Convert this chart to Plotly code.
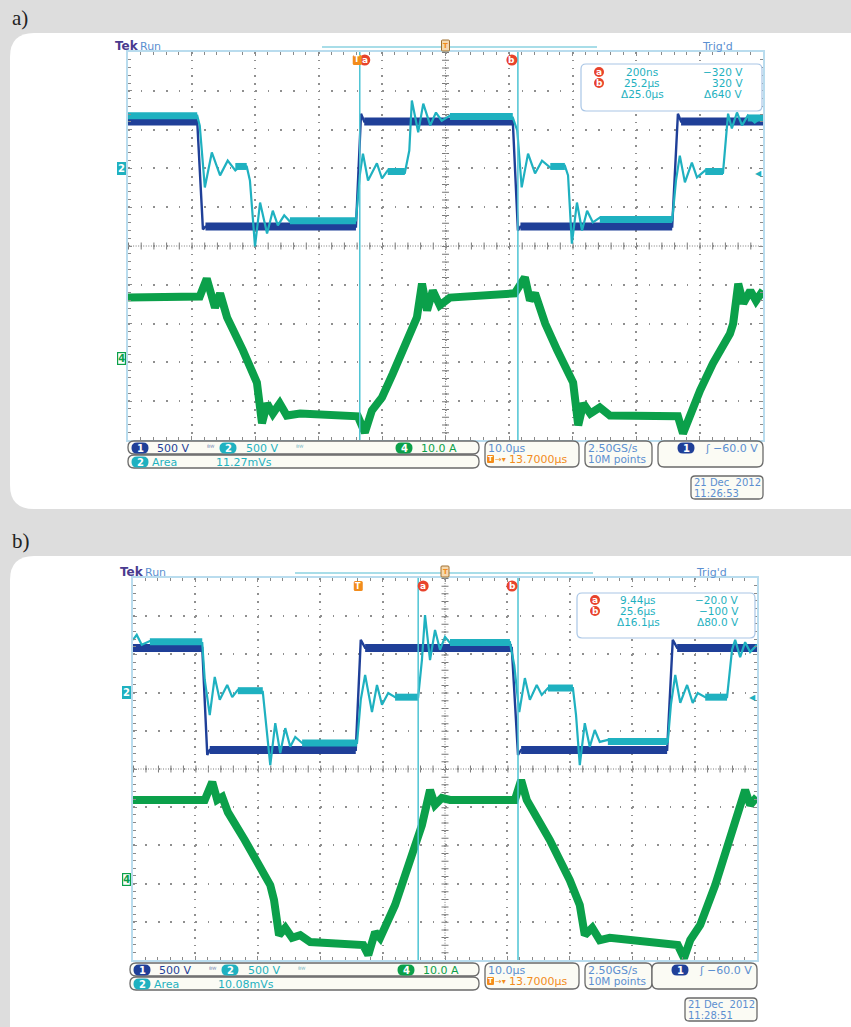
import plotly.graph_objects as go

W, H = 851, 1027

# ======================= DATA =======================
# x: time across the 10-division screen in µs (10.0 µs/div)
# y: vertical position in graticule divisions (centre line = 0)

# ---------- a) ----------
a_ch1_t = [0, 10.9, 11.8, 12.2, 35.9, 36.7, 37.2, 60.6, 61.4, 61.8, 85.7, 86.6, 87.1, 100]
a_ch1_v = [3.21, 3.21, 0.43, 0.50, 0.50, 3.41, 3.21, 3.21, 0.40, 0.50, 0.50, 3.41, 3.21, 3.21]
a_ch1_band_t = [0, 10.9, None, 12.2, 35.9, None, 37.2, 60.6, None, 61.8, 85.7, None, 87.1, 100]
a_ch1_band_v = [3.21, 3.21, None, 0.50, 0.50, None, 3.21, 3.21, None, 0.50, 0.50, None, 3.21, 3.21]

a_ch2_t = [0, 10.9, 11.3, 12.1, 13.2, 14.5, 15.7, 16.9, 18.0, 18.7, 19.2, 20.0, 20.8, 21.9, 22.8, 23.6,
           24.6, 25.5, 35.9, 36.5, 37.0, 37.8, 39.2, 40.0, 40.9, 43.6, 44.3, 44.7, 45.7, 46.5, 47.6, 48.5,
           49.4, 50.7, 60.6, 61.3, 62.0, 63.0, 64.1, 65.2, 66.5, 68.8, 69.3, 69.9, 70.7, 71.5, 72.3, 73.2,
           74.3, 85.7, 86.3, 86.9, 87.7, 88.8, 89.6, 90.9, 93.7, 94.2, 94.5, 95.1, 95.9, 96.7, 97.6, 98.7, 100]
a_ch2_v = [3.36, 3.36, 3.10, 1.51, 2.41, 1.82, 2.20, 1.95, 2.10, 2.05, 1.69, -0.01, 1.12, 0.32, 0.91, 0.53,
           0.79, 0.63, 0.66, 1.82, 2.38, 1.69, 2.13, 1.74, 1.95, 1.89, 2.46, 3.75, 2.93, 3.67, 3.11, 3.44,
           3.23, 3.36, 3.31, 2.98, 1.51, 2.38, 1.87, 2.20, 2.02, 2.07, 1.82, 0.06, 1.12, 0.40, 0.91, 0.61,
           0.73, 0.66, 1.69, 2.33, 1.64, 2.15, 1.77, 1.95, 1.89, 2.72, 3.41, 3.03, 3.44, 3.11, 3.36, 3.18, 3.34]
a_ch2_band_t = [0, 10.9, None, 16.9, 18.7, None, 25.5, 35.9, None, 40.9, 43.6, None, 50.7, 60.6, None,
                66.5, 68.8, None, 74.3, 85.7, None, 90.9, 93.7, None, 97.6, 100]
a_ch2_band_v = [3.36, 3.36, None, 2.05, 2.05, None, 0.65, 0.65, None, 1.92, 1.92, None, 3.34, 3.34, None,
                2.05, 2.05, None, 0.68, 0.68, None, 1.92, 1.92, None, 3.30, 3.30]

a_ch4_t = [0, 11.3, 12.4, 13.1, 13.7, 14.5, 15.6, 18.1, 19.7, 20.3, 21.1, 21.9, 22.8, 23.9, 25.0, 27.1,
           36.2, 37.3, 38.4, 40.0, 41.7, 44.4, 45.5, 46.3, 47.1, 48.0, 49.1, 50.7, 60.9, 62.5, 63.3, 64.1,
           64.9, 65.7, 67.6, 69.6, 70.1, 70.9, 71.7, 72.8, 74.3, 75.9, 86.6, 87.4, 88.5, 90.1, 92.1, 94.8,
           95.3, 96.1, 96.9, 98.0, 98.9, 100]
a_ch4_v = [-1.33, -1.30, -0.84, -1.28, -1.59, -1.22, -1.84, -2.69, -3.29, -3.52, -4.57, -4.06, -4.32, -4.06,
           -4.37, -4.32, -4.39, -4.81, -4.24, -3.90, -3.29, -2.26, -1.84, -0.97, -1.66, -1.15, -1.53, -1.33,
           -1.22, -0.81, -1.40, -1.22, -1.59, -2.00, -2.69, -3.29, -3.52, -4.62, -4.06, -4.32, -4.16, -4.37,
           -4.39, -4.83, -4.32, -3.72, -3.03, -2.26, -2.00, -0.97, -1.48, -1.15, -1.41, -1.15]

a_cursors = [36.5, 61.4]          # cursor a / b positions on screen (µs)
a_trigger = 36.1                  # trigger point marker (µs on screen)
a_cursor_times = ["200ns", "25.2µs", "Δ25.0µs"]
a_cursor_volts = ["\u2212320 V", "320 V", "Δ640 V"]
a_area = "11.27mVs"
a_clock = "11:26:53"

# ---------- b) ----------
b_ch1_t = [0, 11.1, 11.9, 12.3, 35.7, 36.5, 37.2, 60.7, 61.7, 62.2, 85.6, 86.5, 87.2, 100]
b_ch1_v = [3.17, 3.17, 0.37, 0.50, 0.50, 3.38, 3.17, 3.17, 0.37, 0.50, 0.50, 3.38, 3.17, 3.17]
b_ch1_band_t = [0, 11.1, None, 12.3, 35.7, None, 37.2, 60.7, None, 62.2, 85.6, None, 87.2, 100]
b_ch1_band_v = [3.17, 3.17, None, 0.50, 0.50, None, 3.17, 3.17, None, 0.50, 0.50, None, 3.17, 3.17]

b_ch2_t = [0, 0.6, 1.4, 2.7, 11.1, 11.5, 12.3, 13.1, 13.9, 15.1, 15.9, 16.8, 20.8, 21.3, 22.0, 22.8,
           23.6, 24.4, 25.2, 26.0, 27.1, 35.9, 36.5, 37.2, 38.3, 39.1, 39.9, 40.9, 42.0, 45.7, 46.3, 46.8,
           47.6, 48.4, 49.2, 50.0, 50.8, 60.4, 61.1, 61.9, 62.8, 63.6, 64.7, 65.5, 66.5, 70.5, 71.0, 71.6,
           72.4, 73.2, 74.0, 74.8, 76.1, 85.7, 86.2, 86.9, 87.7, 88.8, 89.7, 90.5, 91.7, 95.2, 96.0, 96.5,
           97.3, 98.1, 98.9, 100]
b_ch2_v = [3.38, 3.51, 3.25, 3.35, 3.30, 2.33, 1.41, 2.41, 1.81, 2.20, 1.88, 2.07, 2.02, 1.28, 0.10, 1.20,
           0.42, 1.07, 0.58, 0.84, 0.68, 0.68, 1.81, 2.46, 1.49, 2.20, 1.68, 1.99, 1.88, 1.88, 2.85, 4.03,
           2.85, 3.64, 3.12, 3.46, 3.30, 3.32, 2.72, 1.49, 2.38, 1.81, 2.20, 1.94, 2.12, 2.12, 1.41, 0.10,
           1.20, 0.58, 1.02, 0.71, 0.76, 0.71, 1.68, 2.46, 1.73, 2.20, 1.73, 1.99, 1.88, 1.88, 3.12, 3.38,
           2.93, 3.32, 3.06, 3.25]
b_ch2_band_t = [2.7, 11.1, None, 16.8, 20.8, None, 27.1, 35.9, None, 42.0, 45.7, None, 50.8, 60.4, None,
                66.5, 70.5, None, 76.1, 85.7, None, 91.7, 95.2]
b_ch2_band_v = [3.33, 3.33, None, 2.05, 2.05, None, 0.68, 0.68, None, 1.88, 1.88, None, 3.31, 3.31, None,
                2.12, 2.12, None, 0.72, 0.72, None, 1.88, 1.88]

b_ch4_t = [0, 11.5, 12.7, 13.5, 14.3, 15.2, 17.9, 20.7, 22.0, 22.6, 23.4, 24.4, 25.5, 26.8, 28.4, 36.9,
           37.7, 38.8, 39.6, 42.0, 44.4, 46.3, 47.6, 48.4, 49.5, 50.8, 61.2, 62.2, 63.1, 64.1, 66.8, 70.0,
           71.6, 72.4, 73.6, 74.8, 76.4, 87.3, 88.3, 89.3, 90.9, 93.3, 95.7, 97.3, 98.1, 98.9, 100]
b_ch4_v = [-0.81, -0.81, -0.34, -0.81, -0.73, -1.13, -1.86, -2.64, -3.04, -3.43, -4.35, -4.16, -4.42, -4.35,
           -4.53, -4.61, -4.87, -4.27, -4.42, -3.56, -2.38, -1.47, -0.55, -0.94, -0.76, -0.81, -0.81, -0.29,
           -0.81, -1.07, -1.86, -2.91, -3.56, -4.35, -4.16, -4.48, -4.42, -4.61, -4.95, -4.48, -4.08, -3.04,
           -1.86, -1.07, -0.55, -0.94, -0.73]

b_cursors = [45.7, 61.7]
b_trigger = 36.1
b_cursor_times = ["9.44µs", "25.6µs", "Δ16.1µs"]
b_cursor_volts = ["\u221220.0 V", "\u2212100 V", "Δ80.0 V"]
b_area = "10.08mVs"
b_clock = "11:28:51"

# ---------- common readouts ----------
channel_scales = ["500 V", "500 V", "10.0 A"]
timebase = "10.0µs"
trigger_delay = "13.7000µs"
sample_rate = "2.50GS/s"
record_length = "10M points"
trigger_level = "\u221260.0 V"
date_text = "21 Dec  2012"
ch2_ground_div = 2.0
ch4_ground_div = -2.9
ref_arrow_div = 1.87

# ======================= STYLE =======================
PAGE = "#dddddd"
BLUE = "#1f3f98"
CYAN = "#1fb1c0"
GREEN = "#0ba04a"
CURSOR = "#4ec4d4"
RED = "#e8432c"
ORANGE = "#f28c1c"
STEEL = "#5b8fd0"
TEK = "#4a3b8f"
GRID = "#8f8f8f"
BORDER = "#b9dcee"
BOXEDGE = "#6a6a6a"
BOXFILL = "#fbfbf4"
FONT = "DejaVu Sans"
SERIF = "Liberation Serif"
STS = 11  # status-bar font size

PANELS = [
    dict(label="a)", label_y=18, card=(10, 33, 900, 509),
         gx0=128, gx1=763, gy0=52, gy1=440, sy=441, lx=128,
         topline=(322, 597), mbox=(581, 64, 762, 111), mrows=(72, 83, 94),
         ch1=(a_ch1_t, a_ch1_v, a_ch1_band_t, a_ch1_band_v),
         ch2=(a_ch2_t, a_ch2_v, a_ch2_band_t, a_ch2_band_v),
         ch4=(a_ch4_t, a_ch4_v), cursors=a_cursors, trigger=a_trigger,
         ctimes=a_cursor_times, cvolts=a_cursor_volts, area=a_area, clock=a_clock),
    dict(label="b)", label_y=541, card=(10, 556, 900, 1060),
         gx0=133, gx1=757, gy0=578, gy1=960, sy=963, lx=130,
         topline=(295, 593), mbox=(577, 593, 755, 638), mrows=(600, 611, 622),
         ch1=(b_ch1_t, b_ch1_v, b_ch1_band_t, b_ch1_band_v),
         ch2=(b_ch2_t, b_ch2_v, b_ch2_band_t, b_ch2_band_v),
         ch4=(b_ch4_t, b_ch4_v), cursors=b_cursors, trigger=b_trigger,
         ctimes=b_cursor_times, cvolts=b_cursor_volts, area=b_area, clock=b_clock),
]


def PX(x):
    return x / W


def PY(y):
    return 1 - y / H


def rrect(x0, y0, x1, y1, r):
    rx, ry = r / W, r / H
    X0, X1 = PX(x0), PX(x1)
    YT, YB = PY(y0), PY(y1)
    return (f"M{X0+rx},{YT} L{X1-rx},{YT} Q{X1},{YT} {X1},{YT-ry} L{X1},{YB+ry} "
            f"Q{X1},{YB} {X1-rx},{YB} L{X0+rx},{YB} Q{X0},{YB} {X0},{YB+ry} "
            f"L{X0},{YT-ry} Q{X0},{YT} {X0+rx},{YT} Z")


shapes, annos = [], []


def box(x0, y0, x1, y1, r, fill, edge=None, ew=1.0, layer="above"):
    shapes.append(dict(type="path", path=rrect(x0, y0, x1, y1, r), xref="paper", yref="paper",
                       fillcolor=fill, line=dict(color=edge or fill, width=ew if edge else 0),
                       layer=layer))


def text(x, y, s, color, size=10, anchor="left", family=FONT, bold=False, **kw):
    d = dict(x=PX(x), y=PY(y), xref="paper", yref="paper", text=(f"<b>{s}</b>" if bold else s),
             showarrow=False, xanchor=anchor, yanchor="middle",
             font=dict(color=color, size=size, family=family), borderpad=0, borderwidth=0)
    d.update(kw)
    annos.append(d)


def badge(cx, cy, s, fill, r=5.5):
    shapes.append(dict(type="circle", xref="paper", yref="paper", x0=PX(cx - r), x1=PX(cx + r),
                       y0=PY(cy + r), y1=PY(cy - r), fillcolor=fill, line=dict(width=0), layer="above"))
    text(cx, cy, s, "white", size=9, anchor="center", bold=True)


def pill(cx, cy, s, fill):
    box(cx - 8.5, cy - 5.5, cx + 8.5, cy + 5.5, 5.5, fill)
    text(cx, cy, s, "white", size=10, anchor="center", bold=True)


fig = go.Figure()
layout_axes = {}

for i, p in enumerate(PANELS):
    xa = "x" if i == 0 else "x2"
    ya = "y" if i == 0 else "y2"
    gx0, gx1, gy0, gy1 = p["gx0"], p["gx1"], p["gy0"], p["gy1"]
    dxp = (gx1 - gx0) / 10.0   # px per horizontal division
    dyp = (gy1 - gy0) / 10.0   # px per vertical division

    def tx(t):
        return gx0 + t / 100.0 * (gx1 - gx0)

    def vy(v):
        return (gy0 + gy1) / 2.0 - v * dyp

    # card
    c = p["card"]
    box(c[0], c[1], c[2], c[3], 24, "white", layer="below")
    text(12, p["label_y"], p["label"], "#222222", size=21, family=SERIF)

    # axes
    common = dict(showgrid=True, gridcolor=GRID, gridwidth=1.6, zeroline=False,
                  showline=True, linecolor=BORDER, linewidth=2, mirror="ticks",
                  ticks="inside", ticklen=4, tickcolor="#8a8a8a", tickwidth=1,
                  showticklabels=False, fixedrange=True)
    layout_axes["xaxis" if i == 0 else "xaxis2"] = dict(
        common, domain=[PX(gx0), PX(gx1)], range=[0, 100], dtick=10, tick0=0,
        anchor=ya, griddash=f"1.6px,{dyp/5-1.6:.2f}px",
        minor=dict(dtick=2, ticks="inside", ticklen=3, tickcolor="#8a8a8a", showgrid=False))
    layout_axes["yaxis" if i == 0 else "yaxis2"] = dict(
        common, domain=[PY(gy1), PY(gy0)], range=[-5, 5], dtick=1, tick0=-5,
        anchor=xa, griddash=f"1.6px,{dxp/5-1.6:.2f}px",
        minor=dict(dtick=0.2, ticks="inside", ticklen=3, tickcolor="#8a8a8a", showgrid=False))

    # centre crosshair (fine dotted line + tick marks every 1/5 division)
    shapes.append(dict(type="line", xref=xa, yref=ya, x0=0, x1=100, y0=0, y1=0, layer="below",
                       line=dict(color="#7a7a7a", width=1, dash=f"1px,{dxp/25-1:.2f}px")))
    shapes.append(dict(type="line", xref=xa, yref=ya, x0=0, x1=100, y0=0, y1=0, layer="below",
                       line=dict(color="#7a7a7a", width=7, dash=f"1px,{dxp/5-1:.2f}px")))
    shapes.append(dict(type="line", xref=xa, yref=ya, x0=50, x1=50, y0=5, y1=-5, layer="below",
                       line=dict(color="#7a7a7a", width=1, dash=f"1px,{dyp/15-1:.2f}px")))
    shapes.append(dict(type="line", xref=xa, yref=ya, x0=50, x1=50, y0=5, y1=-5, layer="below",
                       line=dict(color="#7a7a7a", width=7, dash=f"1px,{dyp/5-1:.2f}px")))

    # waveforms
    t1, v1, bt1, bv1 = p["ch1"]
    t2, v2, bt2, bv2 = p["ch2"]
    t4, v4 = p["ch4"]
    for (xs, ys, col, wd) in [(t1, v1, BLUE, 2.4), (bt1, bv1, BLUE, 8),
                              (bt2, bv2, CYAN, 7), (t2, v2, CYAN, 2.2),
                              (t4, v4, GREEN, 8)]:
        fig.add_trace(go.Scatter(x=xs, y=ys, mode="lines", line=dict(color=col, width=wd),
                                 xaxis=xa, yaxis=ya, hoverinfo="skip", showlegend=False,
                                 connectgaps=False))

    # cursors
    for cx in p["cursors"]:
        shapes.append(dict(type="line", xref=xa, yref=ya, x0=cx, x1=cx, y0=-5, y1=5,
                           line=dict(color=CURSOR, width=1.5), layer="above"))
    my = gy0 + 8
    badge(tx(p["cursors"][0]) + 5, my, "a", RED)
    badge(tx(p["cursors"][1]) - 6, my, "b", RED)
    trx = tx(p["trigger"])
    box(trx - 4.5, my - 5, trx + 4.5, my + 5, 1.5, ORANGE)
    text(trx, my, "T", "white", size=8, anchor="center", bold=True)

    # header
    hy = gy0 - 6
    text(gx0 - 13, hy, "Tek", TEK, size=12, bold=True)
    text(gx0 + 12, hy, "Run", STEEL, size=11)
    text(gx1 - 61, hy, "Trig'd", STEEL, size=11)
    shapes.append(dict(type="line", xref="paper", yref="paper", x0=PX(p["topline"][0]),
                       x1=PX(p["topline"][1]), y0=PY(hy + 1), y1=PY(hy + 1),
                       line=dict(color="#a8dde8", width=2), layer="above"))
    ix = tx(50)
    box(ix - 4, hy - 6, ix + 4, hy + 5, 1, "#f5d9b0", edge="#a07030", ew=1)
    text(ix, hy, "T", ORANGE, size=7, anchor="center", bold=True)

    # channel ground markers and reference arrow
    text(gx0 - 2, vy(ch2_ground_div), "2", "white", size=10, anchor="right", bold=True,
         bgcolor=CYAN, borderpad=1)
    text(gx0 - 2, vy(ch4_ground_div), "4", GREEN, size=10, anchor="right", bold=True,
         bgcolor="white", bordercolor=GREEN, borderwidth=1.2, borderpad=0)
    text(gx1 - 1, vy(ref_arrow_div), "◀", CYAN, size=8, anchor="right")

    # cursor readout box
    mx0, my0, mx1, my1 = p["mbox"]
    box(mx0, my0, mx1, my1, 5, "white", edge="#a9c6e6", ew=1.2)
    rows = p["mrows"]
    for k in range(3):
        if k < 2:
            badge(mx0 + 18, rows[k], "ab"[k], RED, r=5)
        text(mx0 + 61, rows[k], p["ctimes"][k], CYAN, size=10.5, anchor="center")
        text(mx0 + 162, rows[k], p["cvolts"][k], CYAN, size=10.5, anchor="right")

    # status bar
    sy, lx = p["sy"], p["lx"]
    r1, r2 = sy + 7, sy + 21
    box(lx, sy, 479, sy + 13, 6, BOXFILL, edge=BOXEDGE, ew=1.3)
    box(lx, sy + 14, 479, sy + 27, 6, BOXFILL, edge=BOXEDGE, ew=1.3)
    box(485, sy, 579, sy + 26, 6, BOXFILL, edge=BOXEDGE, ew=1.3)
    box(585, sy, 652, sy + 26, 6, BOXFILL, edge=BOXEDGE, ew=1.3)
    box(gx1 - 105, sy, gx1, sy + 26, 6, BOXFILL, edge=BOXEDGE, ew=1.3)
    box(gx1 - 72, sy + 35, gx1, sy + 58, 4, BOXFILL, edge=BOXEDGE, ew=1.3)

    pill(lx + 12, r1, "1", BLUE)
    text(lx + 29, r1, channel_scales[0], BLUE, size=STS)
    text(lx + 79, r1, "ᴮᵂ", "#6c7fb0", size=7)
    pill(lx + 100, r1, "2", CYAN)
    text(lx + 118, r1, channel_scales[1], CYAN, size=STS)
    text(lx + 168, r1, "ᴮᵂ", "#6cb0c0", size=7)
    pill(lx + 276, r1, "4", GREEN)
    text(lx + 293, r1, channel_scales[2], GREEN, size=STS)

    pill(lx + 12, r2, "2", CYAN)
    text(lx + 24, r2, "Area", CYAN, size=STS)
    text(lx + 88, r2, p["area"], CYAN, size=STS)

    text(488, sy + 7, timebase, STEEL, size=STS)
    box(487, sy + 14, 494, sy + 22, 1, ORANGE)
    text(490.5, sy + 18, "T", "white", size=7, anchor="center", bold=True)
    text(495, sy + 18, "→▾", ORANGE, size=8)
    text(509, sy + 18, trigger_delay, ORANGE, size=STS)

    text(588, sy + 7, sample_rate, STEEL, size=STS)
    text(588, sy + 18, record_length, STEEL, size=10.5)

    pill(gx1 - 77, sy + 7, "1", BLUE)
    text(gx1 - 56, sy + 7, "ʃ", STEEL, size=STS, anchor="center")
    text(gx1 - 5, sy + 7, trigger_level, STEEL, size=STS, anchor="right")

    text(gx1 - 69, sy + 41, date_text, STEEL, size=10)
    text(gx1 - 69, sy + 52, p["clock"], STEEL, size=10)

fig.update_layout(width=W, height=H, margin=dict(l=0, r=0, t=0, b=0),
                  paper_bgcolor=PAGE, plot_bgcolor="rgba(0,0,0,0)", showlegend=False,
                  shapes=shapes, annotations=annos, **layout_axes)

fig.write_html("out.html", config={"displayModeBar": False},
               post_script="document.body.style.margin='0';document.body.style.overflow='hidden';")
